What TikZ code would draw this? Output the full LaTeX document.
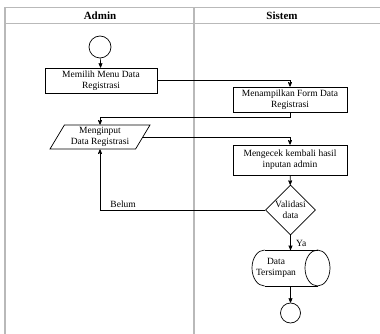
\documentclass[tikz,border=0pt]{standalone}
\usepackage{fontspec}
\setmainfont{Liberation Serif}
\usetikzlibrary{arrows}
\usetikzlibrary{shapes.geometric}
\usetikzlibrary{calc}

\tikzset{
 aksi/.style={draw, line width=.7pt, minimum height=25, align=center, inner sep=1},
 mulai/.style={draw, circle, line width=.7pt, inner sep=0},
 alir/.style={line width=.7pt, ->, >=stealth'},
}

\begin{document}
\begin{tikzpicture}[x=1pt, y=-1pt, font=\fontsize{9.5}{11}\selectfont]
\useasboundingbox (0,0) rectangle (380,334);
% swimlane
\draw[gray!55, line width=1.2pt] (380,7.5) -- (5,7.5) -- (5,334);
\draw[gray!55, line width=1.2pt] (5,23.5) -- (380,23.5);
\draw[gray!55, line width=1.2pt] (194,7.5) -- (194,334);
\node[font=\fontsize{11}{12}\bfseries\selectfont] (admin) at (100,15.5) {Admin};
\node[font=\fontsize{11}{12}\bfseries\selectfont] (sistem) at (282,15.5) {Sistem};

\node[mulai, minimum size=22] (start) at (100,47) {};
\node[aksi, minimum width=112] (menu) at (101,80.5) {Memilih Menu Data\\Registrasi};
\node[aksi, minimum width=114] (form) at (290,99.5) {Menampilkan Form Data\\Registrasi};
\node[trapezium, trapezium left angle=56, trapezium right angle=124, trapezium stretches body,
  draw, line width=.7pt, minimum width=100, minimum height=24, align=center, inner sep=1]
  (input) at (100,137) {Menginput\\Data Registrasi};
\node[aksi, minimum width=114, minimum height=30] (cek) at (290,160) {Mengecek kembali hasil\\inputan admin};
\node[diamond, draw, line width=.7pt, minimum width=50, minimum height=50, inner sep=0] (valid) at (290.5,210) {};
\node[align=center, inner sep=0] (validtext) at (valid) {Validasi\\data};
% tempat penyimpanan (tabung)
\draw[line width=.7pt] (264.5,250) -- (317.5,250) (264.5,286) -- (317.5,286);
\draw[line width=.7pt] (264.5,250) arc[start angle=270, end angle=90, x radius=12.5, y radius=18];
\draw[line width=.7pt] (317.5,268) ellipse [x radius=12.5, y radius=18];
\node[align=center, inner sep=0] (simpan) at (276,268) {Data\\Tersimpan};
\coordinate (simpanatas) at (290.5,250);
\coordinate (simpanbawah) at (290.5,286);
\node[mulai, minimum size=20] (stop) at (290.5,313) {};

\draw[alir] (start) -- (menu);
\draw[alir] (menu.east) -| (form.north);
\draw[alir] (form.south) -- ++(0,5) -| (input.north);
\draw[alir] (input.east) -| (cek.north);
\draw[alir] (cek) -- (valid);
\draw[alir] (valid.west) -| node[pos=.43, above, inner sep=2] {Belum} (input.south);
\draw[alir] (valid.south) -- node[right, xshift=2, yshift=-1] {Ya} (simpanatas);
\draw[alir] (simpanbawah) -- (stop);
\end{tikzpicture}
\end{document}
